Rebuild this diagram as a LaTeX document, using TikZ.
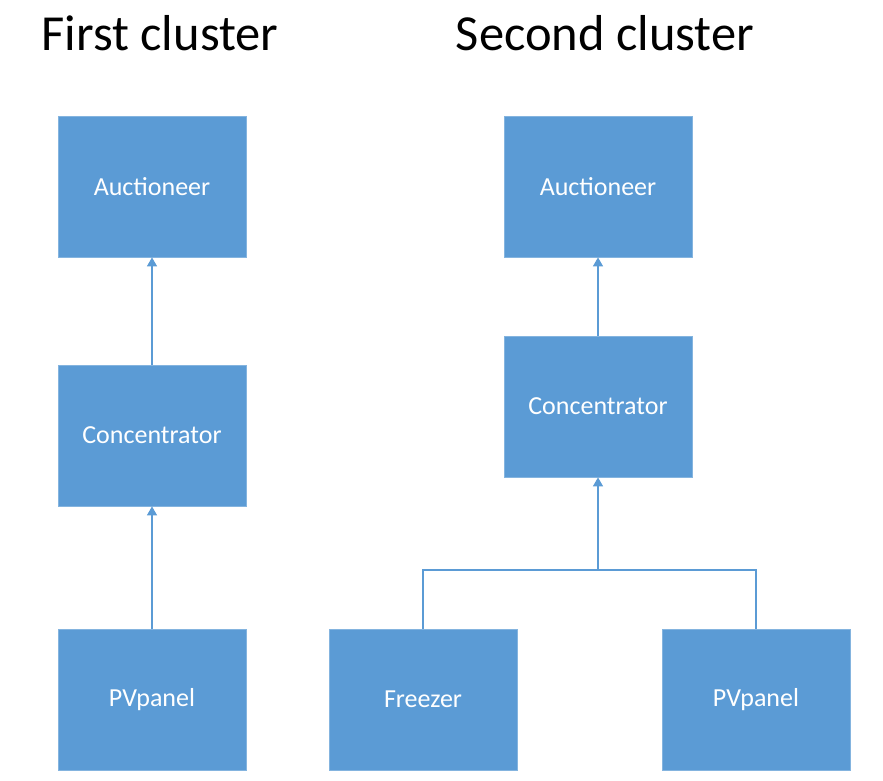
\documentclass[tikz,border=0pt]{standalone}
\usepackage{fontspec}
\setmainfont{Carlito}
\usetikzlibrary{arrows.meta}
\definecolor{boxblue}{RGB}{91,155,213}
\definecolor{lineblue}{RGB}{91,155,213}

\begin{document}
\begin{tikzpicture}[x=1pt,y=-1pt,
		agent/.style={rectangle,fill=boxblue,draw=boxblue!75!white,line width=0.8pt,minimum width=188pt,minimum height=141pt,inner sep=0pt,text=white,font=\fontsize{26}{30}\selectfont},
		title/.style={font=\fontsize{50.5}{56}\selectfont},
		link/.style={draw=lineblue,line width=1.4pt},
		uparrow/.style={link,-{Triangle[length=9pt,width=10pt]}}]
		\useasboundingbox (0,0) rectangle (883,781);
		
		% Titles
		\node[title] (t1) at (160,33) {First cluster};
		\node[title] (t2) at (605,33) {Second cluster};
		
		% First cluster
		\node[agent] (auc1) at (152,186.5) {Auctioneer};
		\node[agent] (con1) at (152,435.5) {Concentrator};
		\node[agent] (pv1) at (152,699.5) {PVpanel};
		
		% Second cluster
		\node[agent] (auc2) at (598,186.5) {Auctioneer};
		\node[agent] (con2) at (598,406.5) {Concentrator};
		\node[agent] (frz) at (423,699.5) {Freezer};
		\node[agent] (pv2) at (756,699.5) {PVpanel};
		
		% Arrows
		\draw[uparrow] (con1) -- (auc1);
		\draw[uparrow] (pv1) -- (con1);
		\draw[uparrow] (con2) -- (auc2);
		\coordinate (bus) at (598,570);
		\draw[link] (frz.north) |- (bus) -| (pv2.north);
		\draw[uparrow] (bus) -- (con2.south);
		\end{tikzpicture}
\end{document}
